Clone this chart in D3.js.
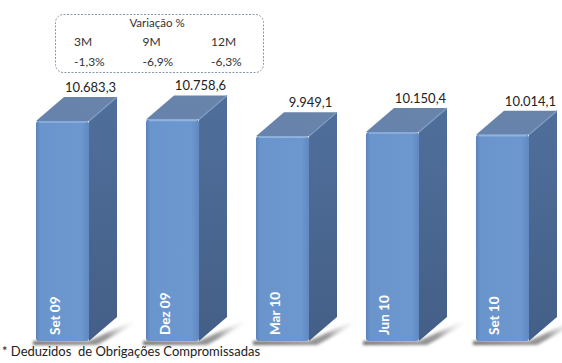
<!DOCTYPE html>
<html>
<head>
<meta charset="utf-8">
<script src="https://cdn.jsdelivr.net/npm/d3@7"></script>
<style>
  body { margin: 0; background: #fff; }
  svg { display: block; font-family: Lato, "Open Sans", sans-serif; }
</style>
</head>
<body>
<div id="chart"></div>
<script>
var categories = ['Set 09', 'Dez 09', 'Mar 10', 'Jun 10', 'Set 10'];
var values = [10683.3, 10758.6, 9949.1, 10150.4, 10014.1];
var periods = ['3M', '9M', '12M'];
var changes = [-1.3, -6.9, -6.3];
var footnote = '* Deduzidos  de Obrigações Compromissadas';

var width = 562,
  height = 363,
  depthX = 28,
  depthY = 24;

var ptBR = d3.formatLocale({ decimal: ',', thousands: '.', grouping: [3], currency: ['R$', ''], minus: '-' });
var fmtValue = ptBR.format(',.1f'),
  fmtPct = ptBR.format('.1f');

var x = d3.scaleBand()
  .domain(categories)
  .range([36, 529])
  .paddingInner(0.518)
  .paddingOuter(0);

var y = d3.scaleLinear()
  .domain([0, 11000])
  .range([341, 114.5]);

var svg = d3.select('#chart')
  .append('svg')
  .attr('width', width)
  .attr('height', height);

var defs = svg.append('defs');

var frontGrad = defs.append('linearGradient').attr('id', 'front');
frontGrad.append('stop').attr('offset', '0%').attr('stop-color', '#5a82b9');
frontGrad.append('stop').attr('offset', '8%').attr('stop-color', '#6a95cc');
frontGrad.append('stop').attr('offset', '85%').attr('stop-color', '#6d98cf');
frontGrad.append('stop').attr('offset', '100%').attr('stop-color', '#5f89c0');

var sideGrad = defs.append('linearGradient').attr('id', 'side')
  .attr('x1', 0).attr('y1', 0).attr('x2', 0).attr('y2', 1);
sideGrad.append('stop').attr('offset', '0%').attr('stop-color', '#4f6f9b');
sideGrad.append('stop').attr('offset', '100%').attr('stop-color', '#445f87');

var topGrad = defs.append('linearGradient').attr('id', 'topface')
  .attr('x1', 0).attr('y1', 1).attr('x2', 1).attr('y2', 0);
topGrad.append('stop').attr('offset', '0%').attr('stop-color', '#6683ad');
topGrad.append('stop').attr('offset', '100%').attr('stop-color', '#6a84a8');

var shadeGrad = defs.append('linearGradient').attr('id', 'shade');
shadeGrad.append('stop').attr('offset', '0%').attr('stop-color', '#6f6f6f');
shadeGrad.append('stop').attr('offset', '70%').attr('stop-color', '#9a9a9a');
shadeGrad.append('stop').attr('offset', '100%').attr('stop-color', '#ffffff').attr('stop-opacity', 0);

defs.append('filter').attr('id', 'blur')
  .append('feGaussianBlur').attr('stdDeviation', 1.5);

// legend box with variation
var legend = svg.append('g').attr('class', 'legend');

legend.append('rect')
  .attr('x', 55.5).attr('y', 14.5)
  .attr('width', 208).attr('height', 58)
  .attr('rx', 8)
  .style('fill', '#fff')
  .style('stroke', '#8796ad')
  .style('stroke-dasharray', '2,1.5');

legend.append('text')
  .attr('x', 157).attr('y', 27)
  .attr('text-anchor', 'middle')
  .style('font-size', '11.5px')
  .style('fill', '#333')
  .text('Variação %');

var colX = d3.scalePoint().domain(periods).range([74, 211]);

legend.selectAll('.period')
  .data(periods)
  .enter()
  .append('text')
  .attr('class', 'period')
  .attr('x', function(d) { return colX(d); })
  .attr('y', 46)
  .style('font-size', '12px')
  .style('fill', '#333')
  .text(function(d) { return d; });

legend.selectAll('.change')
  .data(changes)
  .enter()
  .append('text')
  .attr('class', 'change')
  .attr('x', function(d, i) { return colX(periods[i]); })
  .attr('y', 66)
  .style('font-size', '12px')
  .style('fill', '#333')
  .text(function(d) { return fmtPct(d) + '%'; });

// bars
var bars = svg.selectAll('.bar')
  .data(values)
  .enter()
  .append('g')
  .attr('class', 'bar');

var bw = x.bandwidth();

// shadow on the floor
bars.append('polygon')
  .attr('points', function(d, i) {
    var x0 = x(categories[i]), b = y(0);
    return [[x0 - 3, b], [x0 + bw, b], [x0 + bw + depthX + 22, b - depthY + 1],
      [x0 + bw + depthX + 22, b - depthY + 5], [x0 + bw + 8, b + 4], [x0 - 3, b + 4]].join(' ');
  })
  .attr('fill', 'url(#shade)')
  .attr('filter', 'url(#blur)');

// right side
bars.append('polygon')
  .attr('points', function(d, i) {
    var x0 = x(categories[i]) + bw, t = y(d), b = y(0);
    return [[x0, t], [x0 + depthX, t - depthY], [x0 + depthX, b - depthY], [x0, b]].join(' ');
  })
  .attr('fill', 'url(#side)');

// top face
bars.append('polygon')
  .attr('points', function(d, i) {
    var x0 = x(categories[i]), t = y(d);
    return [[x0, t], [x0 + depthX, t - depthY], [x0 + bw + depthX, t - depthY], [x0 + bw, t]].join(' ');
  })
  .attr('fill', 'url(#topface)');

// front face
bars.append('rect')
  .attr('x', function(d, i) { return x(categories[i]); })
  .attr('y', function(d) { return y(d); })
  .attr('width', bw)
  .attr('height', function(d) { return y(0) - y(d); })
  .attr('rx', 3)
  .attr('fill', 'url(#front)');

// bevel highlight
bars.append('line')
  .attr('x1', function(d, i) { return x(categories[i]) + 3; })
  .attr('x2', function(d, i) { return x(categories[i]) + bw - 2; })
  .attr('y1', function(d) { return y(d) + 1; })
  .attr('y2', function(d) { return y(d) + 1; })
  .style('stroke', '#8fb2e0')
  .style('stroke-width', 1.5);

bars.append('line')
  .attr('x1', function(d, i) { return x(categories[i]) + bw; })
  .attr('x2', function(d, i) { return x(categories[i]) + bw + depthX; })
  .attr('y1', function(d) { return y(d); })
  .attr('y2', function(d) { return y(d) - depthY; })
  .style('stroke', '#7f9cc4')
  .style('stroke-width', 1.2);

// value labels
bars.append('text')
  .attr('x', function(d, i) { return x(categories[i]) + bw / 2 + depthX; })
  .attr('y', function(d) { return y(d) - depthY - 5; })
  .attr('text-anchor', 'middle')
  .style('font-size', '13px')
  .style('fill', '#222')
  .text(function(d) { return fmtValue(d); });

// category labels
bars.append('text')
  .attr('transform', function(d, i) {
    return 'translate(' + (x(categories[i]) + bw / 2 - 3) + ',' + 335 + ') rotate(-90)';
  })
  .attr('text-anchor', 'start')
  .style('font-size', '13.5px')
  .style('font-weight', 'bold')
  .style('fill', '#fff')
  .text(function(d, i) { return categories[i]; });

svg.append('text')
  .attr('x', 2)
  .attr('y', 356)
  .style('font-size', '13px')
  .style('fill', '#222')
  .style('white-space', 'pre')
  .text(footnote);
</script>
</body>
</html>
